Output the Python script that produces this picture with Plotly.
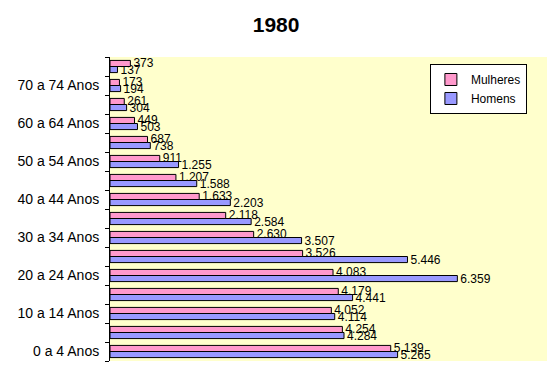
import plotly.graph_objects as go

categorias = ["0 a 4 Anos", "5 a 9 Anos", "10 a 14 Anos", "15 a 19 Anos", "20 a 24 Anos",
              "25 a 29 Anos", "30 a 34 Anos", "35 a 39 Anos", "40 a 44 Anos", "45 a 49 Anos",
              "50 a 54 Anos", "55 a 59 Anos", "60 a 64 Anos", "65 a 69 Anos", "70 a 74 Anos",
              "75 Anos e mais"]
mulheres = [5139, 4254, 4052, 4179, 4083, 3526, 2630, 2118, 1633, 1207, 911, 687, 449, 261, 173, 373]
homens = [5265, 4284, 4114, 4441, 6359, 5446, 3507, 2584, 2203, 1588, 1255, 738, 503, 304, 194, 137]
rotulos = [c if i % 2 == 0 else "" for i, c in enumerate(categorias)]

fig = go.Figure()
fig.add_trace(go.Bar(
    y=categorias, x=homens, orientation="h", name="Homens",
    marker=dict(color="#9999FF", line=dict(color="#000000", width=1)),
    texttemplate="%{x:,}", textposition="outside", constraintext="none",
    cliponaxis=False, textfont=dict(size=12, color="#000000"),
))
fig.add_trace(go.Bar(
    y=categorias, x=mulheres, orientation="h", name="Mulheres",
    marker=dict(color="#FF99CC", line=dict(color="#000000", width=1)),
    texttemplate="%{x:,}", textposition="outside", constraintext="none",
    cliponaxis=False, textfont=dict(size=12, color="#000000"),
))

fig.update_layout(
    width=550, height=366,
    barmode="group", bargap=0.36, bargroupgap=0,
    separators=",.",
    paper_bgcolor="#FFFFFF", plot_bgcolor="#FFFFCC",
    font=dict(family="Liberation Sans, Arial, sans-serif", size=12, color="#000000"),
    title=dict(text="<b>1980</b>", x=0.502, xanchor="center", y=0.932, yanchor="middle",
               font=dict(size=21)),
    margin=dict(l=110, r=3, t=57, b=5, autoexpand=False),
    showlegend=True,
    legend=dict(x=0.954, y=0.977, xanchor="right", yanchor="top", traceorder="reversed",
                bgcolor="#FFFFFF", bordercolor="#000000", borderwidth=1,
                font=dict(size=12), itemwidth=30, tracegroupgap=0),
    xaxis=dict(range=[0, 8000], visible=False, showgrid=False, automargin=False),
    yaxis=dict(categoryorder="array", categoryarray=categorias,
               tickvals=categorias, ticktext=rotulos, automargin=False,
               ticks="outside", tickson="boundaries", ticklen=4, tickcolor="#000000",
               ticklabelstandoff=7,
               showline=True, linecolor="#000000", linewidth=1,
               showgrid=False, zeroline=False, tickfont=dict(size=14),
               range=[-0.5, 15.5]),
)

fig.write_html("out.html", config={"displayModeBar": False},
               post_script="document.body.style.margin='0';")
